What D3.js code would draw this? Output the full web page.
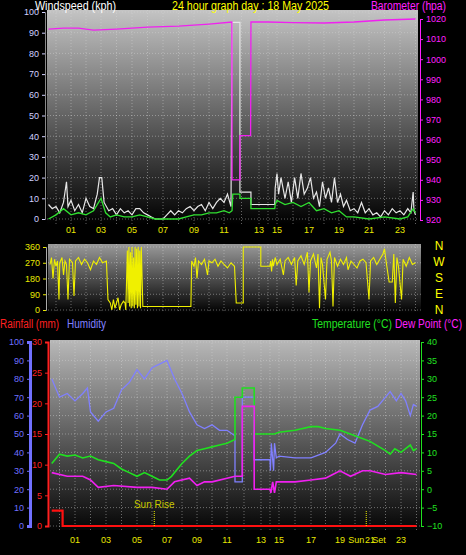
<!DOCTYPE html>
<html><head><meta charset="utf-8">
<script src="https://cdn.jsdelivr.net/npm/d3@7"></script>
<style>body{margin:0;background:#000}svg{display:block;font-family:"Liberation Sans",Arial,sans-serif}</style>
</head><body>
<svg width="466" height="555"></svg>
<script>
// hour labels and where they sit (the logger x axis is not quite linear)
const hourTicks = [1,3,5,7,9,11,13,15,17,19,21,23];
const topTickX = [71,101,132,163,194,224,259,277,309,339,369,400];
const botTickX = [75,106,137,167,197,227,261,279,311,340,370,401];

// [hour, value]
const gust = [[-0.5,7],[-0.25,5],[0,6],[0.25,3],[0.5,8],[0.7,18],[0.8,6],[1,9],[1.25,4],[1.5,7],[1.75,3],[2,10],[2.25,6],[2.5,5],[2.75,12],[2.9,20],[3.05,20],[3.2,8],[3.5,4],[3.75,5],[4,2],[4.25,5],[4.5,3],[4.75,4],[5,2],[5.25,5],[5.5,5],[5.75,3],[6,2],[6.25,1],[6.5,0],[7,0],[7.25,2],[7.5,4],[7.75,2],[8,4],[8.25,3],[8.5,5],[8.75,6],[9,4],[9.25,6],[9.5,7],[9.75,4],[10,8],[10.25,5],[10.5,8],[10.75,10],[11,8],[11.2,12],[11.4,6],[11.46,95],[11.91,95],[11.91,13],[12.54,13],[12.54,7],[14.75,7],[14.8,15],[15,22],[15.1,12],[15.25,20],[15.5,10],[15.7,18],[15.9,8],[16.1,20],[16.3,10],[16.5,22],[16.7,12],[16.9,15],[17.1,20],[17.3,10],[17.5,13],[17.7,6],[17.9,18],[18.1,10],[18.3,15],[18.5,8],[18.7,20],[18.9,8],[19.1,12],[19.3,6],[19.5,9],[19.75,4],[20,5],[20.25,3],[20.5,8],[20.75,3],[21,5],[21.25,2],[21.5,3],[21.75,1],[22,4],[22.25,2],[22.5,5],[22.75,3],[23,4],[23.25,2],[23.5,5],[23.7,3],[23.85,13],[23.9,4],[24,2]];
const avgWind = [[-0.5,0],[0,2],[0.5,5],[1,2],[1.5,3],[2,2],[2.5,4],[3,10],[3.3,3],[3.6,1],[4,2],[4.5,1],[5,1],[5.5,2],[6,1],[6.5,0],[7,0],[8,0],[8.5,1],[9,2],[9.5,2],[10,3],[10.5,3],[11,4],[11.3,3],[11.46,4],[11.5,12],[11.91,12],[11.91,10],[12.54,10],[12.54,5],[14.75,5],[14.8,7],[15,9],[15.5,7],[16,8],[16.5,6],[17,8],[17.5,4],[18,5],[18.5,3],[19,4],[19.5,1],[20,1],[21,0],[22,1],[23,0],[23.5,1],[23.85,5],[24,3]];
const baro = [[-0.5,1015],[0.5,1015.5],[1.5,1015.5],[2.5,1014.5],[4,1015],[6,1016],[8,1016.5],[10,1017.5],[11.45,1018.5],[11.46,940],[11.91,940],[11.91,962],[12.52,962],[12.54,1018.5],[14,1018.5],[16,1018.2],[18,1018],[20,1018.5],[22,1019.5],[24,1020]];
const windDir = [[-0.4,260],[-0.3,300],[-0.2,180],[-0.1,290],[0,250],[0.1,280],[0.2,60],[0.25,270],[0.4,300],[0.5,200],[0.6,280],[0.7,260],[0.8,60],[0.9,290],[1.1,270],[1.2,80],[1.3,280],[1.5,300],[1.7,260],[1.9,290],[2.1,270],[2.3,230],[2.5,280],[2.7,260],[2.9,300],[3.1,270],[3.35,280],[3.45,60],[3.6,40],[3.7,0],[3.8,60],[3.9,10],[4.0,40],[4.1,70],[4.2,0],[4.3,30],[4.45,50],[4.55,40],[4.6,0],[4.7,340],[4.75,40],[4.8,360],[4.85,20],[4.9,330],[4.95,10],[5.0,360],[5.05,20],[5.1,300],[5.15,10],[5.2,360],[5.25,30],[5.3,350],[5.35,10],[5.4,360],[5.45,20],[5.5,340],[5.55,10],[5.6,360],[5.7,20],[5.8,20],[7,20],[8.5,20],[8.8,20],[8.85,280],[9,250],[9.1,300],[9.2,180],[9.3,280],[9.5,260],[9.7,290],[9.9,200],[10,280],[10.2,270],[10.4,290],[10.6,250],[10.8,280],[11,260],[11.2,240],[11.4,270],[11.6,250],[11.7,40],[12.1,40],[12.1,360],[13.2,360],[13.2,250],[14.2,250],[14.3,280],[14.4,220],[14.5,290],[14.6,250],[14.8,300],[15,260],[15.2,290],[15.4,200],[15.5,280],[15.7,300],[15.9,260],[16.1,300],[16.2,140],[16.3,280],[16.5,310],[16.7,260],[16.9,330],[17,100],[17.1,280],[17.3,320],[17.5,240],[17.6,320],[17.7,10],[17.8,300],[17.9,260],[18.1,60],[18.2,290],[18.4,330],[18.5,280],[18.6,20],[18.7,300],[18.9,250],[19.1,290],[19.3,260],[19.5,300],[19.6,230],[19.8,280],[20,260],[20.2,240],[20.4,280],[20.6,290],[20.8,270],[21,60],[21.1,280],[21.3,300],[21.5,260],[21.7,290],[21.9,320],[22,350],[22.1,280],[22.3,160],[22.5,160],[22.6,320],[22.7,40],[22.8,300],[22.9,250],[23.1,60],[23.2,290],[23.4,250],[23.6,300],[23.8,260],[24,270]];
const temp = [[-0.5,7],[0,9.5],[0.5,9],[1,9.3],[1.5,8.5],[2,9],[2.5,8],[3,7.5],[3.5,7],[4,5.5],[4.5,4.5],[5,3.5],[5.5,4.5],[6,3.5],[6.5,2.5],[7,2.5],[7.3,3.5],[7.6,5],[8,7],[8.5,9],[9,10.5],[9.5,11],[10,11.5],[10.5,12],[11,12.5],[11.47,13.5],[11.47,25],[11.9,25],[11.9,27.5],[12.6,27.5],[12.6,15],[14,15],[14.5,15],[15,15.5],[16,16],[17,17],[17.5,17],[18,16.5],[19,16],[20,14.5],[21,13],[22,10.5],[22.3,9.5],[22.6,11],[23,10],[23.3,11],[23.6,12],[23.8,10.5],[24,11]];
const humidity = [[-0.5,80],[0,70],[0.5,72],[1,68],[1.5,72],[1.8,75],[2,62],[2.5,57],[3,62],[3.5,64],[4,74],[4.5,78],[5,85],[5.5,80],[6,86],[6.5,88],[7,90],[7.5,80],[8,72],[8.5,62],[9,55],[9.5,53],[10,55],[10.5,52],[11,52],[11.47,49],[11.47,24],[11.9,24],[11.9,70],[12.6,70],[12.6,36],[14,36],[14.05,30],[14.15,45],[14.3,36],[14.4,30],[14.5,45],[14.7,37],[15,38],[16,37],[17,37],[18,40],[18.7,45],[19,50],[19.5,47],[20,45],[20.5,55],[21,63],[21.5,65],[22,70],[22.3,73],[22.7,68],[23,72],[23.3,68],[23.6,60],[23.8,66],[24,65]];
const dewPoint = [[-0.5,4.5],[0.5,3.5],[1.5,3.5],[2,2.5],[2.5,0.5],[3.5,1],[5,0.5],[6,0.5],[7,0],[7.5,2],[8.5,3],[9,1],[9.5,2],[10,2],[11,3],[11.47,3.5],[11.9,3.5],[11.9,22.5],[12.6,22.5],[12.6,0],[14,0],[14.1,-1],[14.3,2],[14.5,-1],[14.7,2],[16,2],[17,2.5],[18,3],[18.5,4],[19,5],[19.7,3.5],[20.5,5],[21,5],[22,4],[23,4.5],[24,4]];
const rain = [[-0.5,2.5],[0.2,2.5],[0.2,0],[24,0]];
const sunRise = 6.15, sunSet = 20.75;
const dirLabels = ["N","W","S","E","N"];

const svg = d3.select("svg");
const defs = svg.append("defs");
function grad(id, top, bot) {
  const g = defs.append("linearGradient").attr("id", id).attr("x1",0).attr("x2",0).attr("y1",0).attr("y2",1);
  g.append("stop").attr("offset","0%").attr("stop-color",top);
  g.append("stop").attr("offset","100%").attr("stop-color",bot);
}
grad("gTop","#c4c4c4","#000");
grad("gMid","#9a9a9a","#000");
grad("gBot","#b8b8b8","#050505");

const txt = (x,y,s,c,anchor,size) => svg.append("text").attr("x",x).attr("y",y).text(s)
  .attr("fill",c).attr("text-anchor",anchor||"start").attr("font-size",size||12);
// legend text squeezed into a known width, like the narrow original font
const label = (x,y,s,c,w) => txt(x,y,s,c,"start",12).attr("textLength",w).attr("lengthAdjust","spacingAndGlyphs");

function grid(x, y, x0, x1, yTicks, y0, y1) {
  const g = svg.append("g").attr("stroke","#d8d8d8").attr("stroke-opacity",0.45).attr("stroke-dasharray","1,2");
  yTicks.forEach(t => g.append("line").attr("x1",x0).attr("x2",x1).attr("y1",y(t)).attr("y2",y(t)));
  d3.range(0,25).forEach(h => { const xx = x(h); if (xx > x0 && xx < x1) g.append("line").attr("x1",xx).attr("x2",xx).attr("y1",y0).attr("y2",y1); });
}
function yAxis(scale, xpos, ticks, color, side) {
  const ax = (side === "left" ? d3.axisLeft(scale) : d3.axisRight(scale)).tickValues(ticks).tickSize(3).tickFormat(d3.format("d"));
  const g = svg.append("g").attr("transform",`translate(${xpos},0)`).call(ax);
  g.select(".domain").attr("stroke",color);
  g.selectAll(".tick line").attr("stroke",color);
  g.selectAll("text").attr("fill",color).attr("font-size",9);
  return g;
}
function xLabels(x, ticks, y) {
  ticks.forEach(h => txt(x(h), y, d3.format("02")(h), "#e8e800", "middle", 9));
}
function series(data, x, y, color, w) {
  svg.append("path").datum(data).attr("fill","none").attr("stroke",color).attr("stroke-width",w||1.2)
    .attr("d", d3.line().x(d => x(d[0])).y(d => y(d[1])));
}

// ---- top panel: wind & barometer
const xT = d3.scaleLinear().domain(hourTicks).range(topTickX);
const yW = d3.scaleLinear().domain([0,100]).range([219,12]);
const yB = d3.scaleLinear().domain([920,1020]).range([220,19]);
svg.append("rect").attr("x",47).attr("y",10).attr("width",371).attr("height",214).attr("fill","url(#gTop)");
grid(xT, yW, 47, 418, d3.range(0,101,10), 10, 224);
yAxis(yW, 45, d3.range(0,101,10), "#d0d0ff", "left").select(".domain").attr("stroke","#888");
yAxis(yB, 420, d3.range(920,1021,10), "#ff20ff", "right");
series(gust, xT, yW, "#e6e6e6", 1.2);
series(avgWind, xT, yW, "#30e030", 1.3);
series(baro, xT, yB, "#f020f0", 1.3);
xLabels(xT, hourTicks, 233);
label(35,10,"Windspeed (kph)","#fff",81);
label(172,10,"24 hour graph day : 18 May 2025","#ffff00",157);
label(371,10,"Barometer (hpa)","#ff20ff",75);

// ---- middle panel: wind direction
const yD = d3.scaleLinear().domain([0,360]).range([310,247]);
svg.append("rect").attr("x",48).attr("y",244).attr("width",373).attr("height",69).attr("fill","url(#gMid)");
grid(xT, yD, 48, 421, [0,90,180,270,360], 244, 313);
yAxis(yD, 46, [0,90,180,270,360], "#e8e800", "left").select(".domain").attr("stroke","#aaa");
series(windDir, xT, yD, "#f0f000", 1.1);
dirLabels.forEach((s,i) => txt(439, 250 + i*16, s, "#ffff00", "middle", 12));

// ---- bottom panel: temp, humidity, rain
const xB = d3.scaleLinear().domain(hourTicks).range(botTickX);
const yH = d3.scaleLinear().domain([0,100]).range([526,342]);
const yT = d3.scaleLinear().domain([-10,40]).range([526,342]);
const yR = d3.scaleLinear().domain([0,30]).range([526,342]);
svg.append("rect").attr("x",50).attr("y",340).attr("width",370).attr("height",190).attr("fill","url(#gBot)");
grid(xB, yT, 50, 420, d3.range(-10,41,5), 340, 530);
yAxis(yH, 30, d3.range(0,101,10), "#7070ff", "left").select(".domain").attr("stroke-width",3);
yAxis(yR, 48, d3.range(0,31,5), "#ff2020", "left").select(".domain").attr("stroke-width",2);
yAxis(yT, 421, d3.range(-10,41,5), "#20e020", "right");
series(humidity, xB, yH, "#8080ff", 1.3);
series(temp, xB, yT, "#20e020", 1.6);
series(dewPoint, xB, yT, "#f020f0", 1.6);
series(rain, xB, yR, "#ff1010", 2.2);
[sunRise, sunSet].forEach(h => svg.append("line").attr("x1",xB(h)).attr("x2",xB(h)).attr("y1",511).attr("y2",527)
  .attr("stroke","#f0f000").attr("stroke-dasharray","1,1"));
txt(xB(sunRise), 508, "Sun Rise", "#c8c800", "middle", 10);
xLabels(xB, hourTicks.filter(h => h !== 21), 543);
txt(xB(sunSet) - 2, 543, "Sun", "#e8e800", "end", 9);
txt(xB(sunSet) + 6, 543, "Set", "#e8e800", "start", 9);
txt(xB(21), 543, "21", "#e8e800", "middle", 9);
label(0,328,"Rainfall (mm)","#ff2020",59);
label(67,328,"Humidity","#8080ff",39);
label(312,328,"Temperature (°C)","#20e020",80);
label(395,328,"Dew Point (°C)","#ff20ff",67);
</script>
</body></html>
